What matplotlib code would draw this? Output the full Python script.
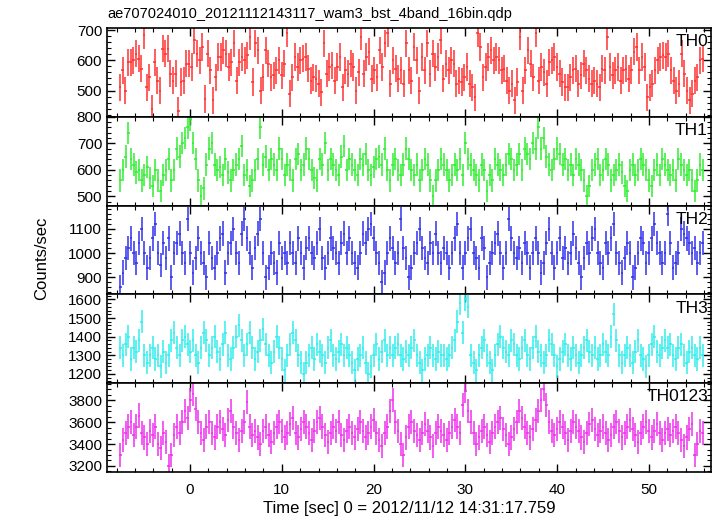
import numpy as np
import matplotlib
matplotlib.use("Agg")
import matplotlib.pyplot as plt
from matplotlib.ticker import MultipleLocator

plt.rcParams['font.family'] = ['Liberation Sans', 'DejaVu Sans']

title = "ae707024010_20121112143117_wam3_bst_4band_16bin.qdp"
xlabel = "Time [sec] 0 = 2012/11/12 14:31:17.759"
ylabel = "Counts/sec"

t_start, t_end = -7.75, 56.0

names = ["TH0", "TH1", "TH2", "TH3", "TH0123"]
colors = ["#ff3333", "#33ee33", "#3333ee", "#33eeee", "#ee33ee"]
errs = [45, 42, 50, 62, 110]
ylims = [(413, 707), (465, 800), (830, 1195), (1150, 1627), (3145, 3955)]
ymajor = [100, 100, 100, 100, 200]
yminor = [20, 20, 20, 20, 50]

th0 = [511, 567, 500, 594, 594, 600, 622, 605, 572, 683, 511, 544, 440, 594, 533, 500, 639, 622, 639, 556,
       533, 556, 433, 528, 533, 589, 589, 578, 667, 622, 600, 644, 472, 622, 567, 467, 544, 611, 611, 633,
       622, 578, 594, 656, 533, 594, 611, 600, 617, 678, 528, 656, 633, 500, 544, 633, 589, 544, 550, 567,
       600, 550, 589, 689, 489, 544,
       611, 578, 600, 605, 611, 572, 533, 544, 539, 522, 494, 656, 556, 578, 583, 533, 578, 611, 511, 567,
       556, 589, 578, 500, 561, 678, 556, 611, 628, 539, 567, 544, 633, 578, 656, 689, 522, 600, 572, 539,
       567, 522, 656, 567, 533, 644, 600, 500, 611, 567, 656, 556, 622, 578, 611, 667, 539, 589, 567, 600,
       589, 522, 533, 528, 544, 578, 522, 511, 478, 689, 644, 544, 578, 611, 633, 600,
       611, 600, 567, 572, 533, 500, 522, 467, 528, 678, 500, 567, 633, 589, 544, 689, 533, 578, 561, 522,
       594, 600, 611, 578, 556, 528, 511, 511, 544, 567, 572, 522, 550, 589, 567, 539, 522, 533, 522, 511,
       572, 567, 678, 578, 550, 567, 578, 533, 567, 572, 539, 567, 628, 644, 567, 611, 578, 478, 511, 522,
       567, 600, 611, 617, 611, 622, 567, 533, 500, 522, 622, 556, 500, 467, 489, 533, 544, 600, 605]

th1 = [560, 600, 650, 740, 640, 620, 590, 600, 560, 580, 610, 570, 540, 600, 560, 520, 580,
       600, 640, 560, 600, 680, 650, 700, 720, 760, 790, 700, 640, 560, 500, 530, 620, 680,
       700, 620, 600, 610, 580, 640, 590, 560, 600, 620, 640, 690, 580, 600, 540, 560, 600,
       640, 760, 620, 650, 600, 640, 620, 600, 680, 640, 580, 620, 600, 560, 640, 660, 600,
       620, 680, 640, 600, 570, 560, 640, 620, 700, 600, 640, 620, 600, 580, 650, 690, 600,
       640, 620, 600, 580, 640, 620, 660, 600, 580, 610, 640, 650, 620, 680, 600, 560, 620,
       640, 600, 580, 620, 680, 640, 600, 580, 620, 560, 600, 640, 620, 560, 500, 560, 600,
       640, 620, 600, 560, 580, 620, 600, 640, 580, 700, 640, 620, 600, 580, 560, 620, 600,
       520, 580, 560, 640, 620, 600, 580, 620, 660, 640, 600, 620, 660, 600, 680, 660, 640,
       700, 680, 760, 680, 720, 650, 620, 600, 640, 680, 660, 620, 640, 600, 620, 580, 640,
       620, 600, 560, 500, 540, 600, 620, 640, 580, 600, 640, 620, 560, 580, 600, 620, 590,
       540, 520, 600, 620, 580, 600, 640, 620, 600, 560, 540, 600, 620, 580, 640, 620, 600,
       580, 600, 560, 640, 620, 600, 580, 600, 560, 520, 560, 620, 600]

th2 = [860, 920, 980, 1020, 1060, 1000, 960, 1040, 1100, 1000, 940, 980, 1060, 1120, 1000, 950, 1040,
       980, 1060, 900, 1000, 1040, 1080, 1000, 960, 1140, 1000, 920, 980, 1060, 1000, 960, 900, 1040,
       980, 940, 1000, 1060, 1080, 920, 1000, 1040, 1100, 1000, 960, 1080, 1140, 1060, 1000, 940, 1020,
       1080, 1140, 1000, 900, 940, 1000, 960, 920, 1040, 980, 1000, 960, 1040, 1000, 960, 1060, 1000,
       940, 1020, 1060, 1000, 980, 1040, 1100, 980, 940, 1000, 1060, 1020, 1000, 960, 1040, 1080, 1000,
       1060, 1000, 960, 940, 1000, 1080, 1040, 1100, 1120, 1060, 1000, 960, 880, 920, 1000, 1060, 1020,
       960, 1000, 1140, 1020, 980, 900, 940, 1000, 1040, 1100, 1020, 980, 960, 1040, 1000, 1080, 1000,
       960, 1020, 1000, 940, 1000, 1060, 1120, 1000, 940, 1000, 1060, 1100, 1000, 980, 940, 1060, 1020,
       900, 960, 1000, 1040, 1080, 1000, 940, 1000, 1140, 1060, 1000, 980, 1020, 960, 1040, 1000, 940,
       1000, 1060, 1000, 920, 960, 1040, 1100, 1000, 940, 1000, 1060, 980, 1020, 960, 1000, 1080, 1020,
       960, 900, 980, 1040, 1000, 1060, 1100, 1000, 960, 940, 1040, 1000, 1060, 1120, 1000, 960, 920,
       980, 1040, 1000, 900, 940, 1000, 1060, 1040, 960, 1000, 1060, 1120, 1040, 1000, 960, 1000, 1160,
       1040, 940, 960, 1000, 1100, 1080, 1060, 1040, 1000, 1020, 960, 1000, 1040]

th3 = [1340, 1300, 1360, 1400, 1280, 1340, 1320, 1380, 1480, 1300, 1260, 1300, 1340, 1280, 1300, 1240, 1320,
       1260, 1300, 1380, 1420, 1340, 1300, 1380, 1400, 1360, 1320, 1380, 1300, 1260, 1340, 1420, 1380, 1300,
       1340, 1400, 1320, 1280, 1360, 1420, 1300, 1280, 1340, 1400, 1460, 1380, 1300, 1360, 1420, 1340, 1280,
       1320, 1380, 1440, 1360, 1300, 1260, 1320, 1400, 1340, 1280, 1220, 1300, 1360, 1420, 1380, 1300, 1260,
       1200, 1260, 1300, 1340, 1280, 1360, 1320, 1300, 1260, 1340, 1380, 1300, 1280, 1320, 1360, 1300, 1340,
       1300, 1260, 1220, 1280, 1300, 1340, 1260, 1200, 1240, 1300, 1360, 1280, 1320, 1380, 1300, 1340, 1300,
       1340, 1360, 1300, 1280, 1320, 1300, 1340, 1380, 1300, 1260, 1220, 1280, 1300, 1340, 1300, 1280, 1320,
       1300, 1300, 1280, 1300, 1340, 1380, 1480, 1580, 1420, 1600, 1560, 1300, 1260, 1220, 1300, 1340, 1380,
       1300, 1260, 1220, 1300, 1360, 1400, 1340, 1320, 1300, 1380, 1360, 1300, 1280, 1340, 1380, 1300, 1280,
       1340, 1400, 1320, 1300, 1260, 1300, 1380, 1360, 1300, 1240, 1280, 1320, 1360, 1300, 1280, 1340, 1300,
       1260, 1300, 1340, 1380, 1320, 1300, 1340, 1280, 1300, 1360, 1320, 1300, 1400, 1520, 1380, 1300, 1260,
       1300, 1340, 1300, 1260, 1320, 1380, 1300, 1280, 1240, 1300, 1360, 1400, 1320, 1300, 1340, 1380, 1340,
       1360, 1300, 1280, 1340, 1360, 1300, 1260, 1320, 1340, 1300, 1280, 1340, 1300]

th0123 = [3300, 3440, 3500, 3560, 3600, 3480, 3560, 3660, 3500, 3460, 3400, 3520, 3480, 3560, 3400, 3360, 3500,
          3420, 3200, 3300, 3480, 3560, 3500, 3600, 3700, 3640, 3800, 3860, 3720, 3600, 3500, 3440, 3560, 3600,
          3500, 3460, 3560, 3600, 3540, 3480, 3620, 3700, 3560, 3500, 3440, 3520, 3600, 3780, 3560, 3480, 3520,
          3460, 3400, 3520, 3560, 3480, 3420, 3500, 3560, 3600, 3520, 3460, 3500, 3580, 3640, 3500, 3460, 3540,
          3600, 3560, 3500, 3440, 3520, 3600, 3640, 3560, 3480, 3420, 3500, 3560, 3520, 3600, 3480, 3440, 3520,
          3560, 3500, 3460, 3540, 3600, 3520, 3460, 3500, 3560, 3620, 3500, 3440, 3380, 3500, 3560, 3700, 3800,
          3600, 3520, 3400, 3300, 3460, 3560, 3600, 3520, 3480, 3440, 3500, 3580, 3520, 3460, 3380, 3500, 3560,
          3520, 3480, 3440, 3500, 3560, 3620, 3560, 3500, 3760, 3880, 3700, 3600, 3500, 3400, 3460, 3520, 3560,
          3480, 3420, 3500, 3560, 3600, 3640, 3540, 3480, 3400, 3460, 3540, 3600, 3700, 3640, 3560, 3500, 3460,
          3540, 3620, 3700, 3800, 3900, 3760, 3600, 3520, 3480, 3540, 3600, 3560, 3500, 3440, 3520, 3600, 3560,
          3520, 3460, 3420, 3500, 3580, 3620, 3540, 3480, 3520, 3560, 3500, 3440, 3480, 3560, 3600, 3520, 3460,
          3500, 3560, 3620, 3540, 3480, 3420, 3500, 3560, 3600, 3520, 3460, 3520, 3580, 3500, 3440, 3500, 3540,
          3480, 3520, 3560, 3500, 3440, 3380, 3460, 3540, 3580, 3300, 3400, 3520, 3500]

series = [th0, th1, th2, th3, th0123]

fig = plt.figure(figsize=(7.17, 5.16), dpi=100)

left, right = 107 / 717, 711 / 717
top_px, panel_px = 28, 88.8

for i, (vals, name, col, err) in enumerate(zip(series, names, colors, errs)):
    y0 = 1 - (top_px + (i + 1) * panel_px) / 516
    ax = fig.add_axes([left, y0, right - left, panel_px / 516])
    vals = np.array(vals, dtype=float)
    dt = (t_end - t_start) / len(vals)
    t = t_start + dt * (np.arange(len(vals)) + 0.5)
    ax.errorbar(t, vals, xerr=dt / 2, yerr=err, fmt='none', ecolor=col,
                elinewidth=1.4, capsize=0, alpha=0.8)
    ax.set_xlim(-9.04, 56.75)
    ax.set_ylim(*ylims[i])
    ax.xaxis.set_major_locator(MultipleLocator(10))
    ax.xaxis.set_minor_locator(MultipleLocator(2))
    ax.yaxis.set_major_locator(MultipleLocator(ymajor[i]))
    ax.yaxis.set_minor_locator(MultipleLocator(yminor[i]))
    ax.tick_params(which='both', direction='in', top=True, right=True, labelsize=11)
    ax.tick_params(which='major', length=6, width=1)
    ax.tick_params(which='minor', length=3, width=0.8)
    ax.tick_params(axis='x', pad=8)
    if i < len(series) - 1:
        ax.tick_params(labelbottom=False)
    for s in ax.spines.values():
        s.set_linewidth(1.2)
    ax.text(0.995, 0.93, name, transform=ax.transAxes, ha='right', va='top', fontsize=12.5)

fig.text(left, 1 - 18 / 516, title, ha='left', va='baseline', fontsize=10.5)
fig.text((left + right) / 2, 1 - 513 / 516, xlabel, ha='center', va='baseline', fontsize=12)
fig.text(42 / 717, 0.5, ylabel, rotation=90, ha='center', va='center', fontsize=12)

fig.savefig("out.png", dpi=100)
